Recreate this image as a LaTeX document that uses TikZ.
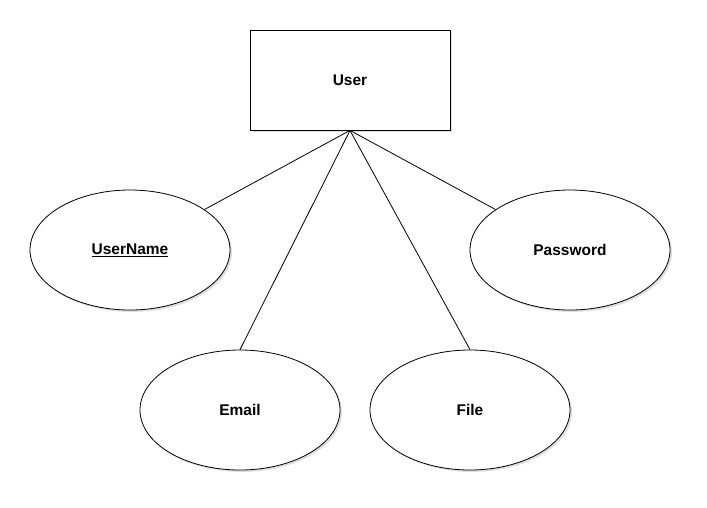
\documentclass[tikz,border=0pt]{standalone}
\usepackage{fontspec}
\setmainfont{Liberation Sans}
\usetikzlibrary{shapes.geometric,shadows}

\begin{document}
\begin{tikzpicture}[x=1pt,y=-1pt,
    entity/.style={draw, fill=white, line width=0.8pt, minimum width=200pt, minimum height=100pt,
        drop shadow={opacity=0.25, shadow xshift=2pt, shadow yshift=-2pt, fill=gray}},
    attrib/.style={ellipse, draw, fill=white, line width=0.8pt, minimum width=200pt, minimum height=120pt,
        drop shadow={opacity=0.25, shadow xshift=2pt, shadow yshift=-2pt, fill=gray}},
    every node/.style={font=\fontsize{15.5}{18}\selectfont\bfseries},
    link/.style={line width=0.8pt}]
            % Set up the canvas
            \useasboundingbox (0,0) rectangle (707,507);

            % Entity
            \node[entity] (user) at (350,80) {User};

            % Attributes
            \node[attrib] (username) at (130,250) {\underline{UserName}};
            \node[attrib] (password) at (570,250) {Password};
            \node[attrib] (email) at (240,410) {Email};
            \node[attrib] (file) at (470,410) {File};

            % Links
            \draw[link] (user.south) -- (username);
            \draw[link] (user.south) -- (email.north);
            \draw[link] (user.south) -- (file.north);
            \draw[link] (user.south) -- (password);

        \end{tikzpicture}
\end{document}
